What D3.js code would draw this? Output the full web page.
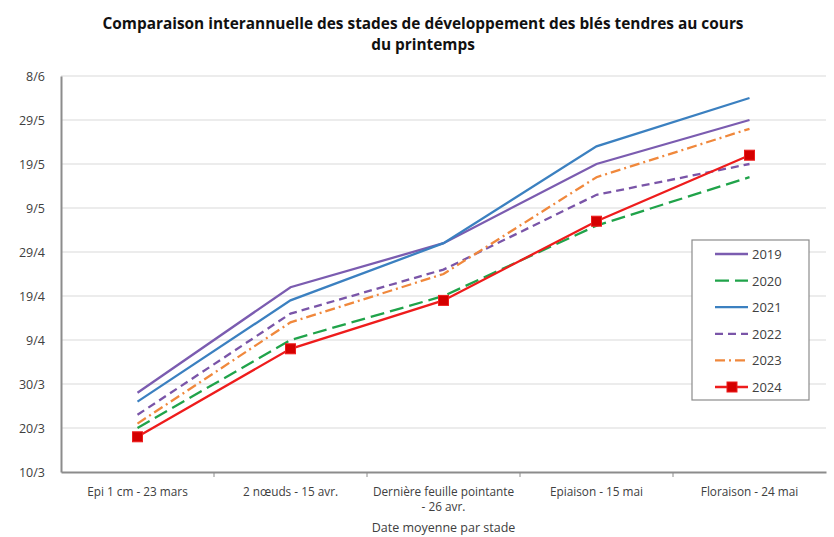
<!DOCTYPE html>
<meta charset="utf-8">
<script src="https://d3js.org/d3.v7.min.js"></script>
<style>
  body { margin: 0; background: #fff; }
  text { font-family: "Open Sans", "Liberation Sans", sans-serif; fill: #404040; }
</style>
<div id="chart"></div>
<script>
// stages (x categories), second line for the wrapped one
var stades = ["Epi 1 cm - 23 mars", "2 nœuds - 15 avr.", "Dernière feuille pointante|- 26 avr.", "Epiaison - 15 mai", "Floraison - 24 mai"];
var annees = ["2019", "2020", "2021", "2022", "2023", "2024"];

// dates (day/month)
var d2019 = ["28/3", "21/4", "1/5", "19/5", "29/5"];
var d2020 = ["20/3", "9/4", "19/4", "5/5", "16/5"];
var d2021 = ["26/3", "18/4", "1/5", "23/5", "3/6"];
var d2022 = ["23/3", "15/4", "25/4", "12/5", "19/5"];
var d2023 = ["21/3", "13/4", "24/4", "16/5", "27/5"];
var d2024 = ["18/3", "7/4", "18/4", "6/5", "21/5"];

var yTicks = ["10/3", "20/3", "30/3", "9/4", "19/4", "29/4", "9/5", "19/5", "29/5", "8/6"];

var width = 834, height = 537;
var margin = {top: 76, right: 8, bottom: 65, left: 61};
var w = width - margin.left - margin.right,
    h = height - margin.top - margin.bottom;

var parse = function(s) { return d3.timeParse("%d/%m/%Y")(s + "/2021"); };

var svg = d3.select("#chart").append("svg")
    .attr("width", width)
    .attr("height", height);

var g = svg.append("g")
    .attr("transform", "translate(" + margin.left + "," + margin.top + ")");

var x = d3.scaleBand().domain(stades).range([0, w]);
var y = d3.scaleTime().domain([parse("10/3"), parse("8/6")]).range([h, 0]);

// gridlines
g.append("g").selectAll("line").data(yTicks.slice(1)).enter().append("line")
    .attr("x1", 0).attr("x2", w)
    .attr("y1", function(d) { return y(parse(d)); })
    .attr("y2", function(d) { return y(parse(d)); })
    .attr("stroke", "#d9d9d9").attr("stroke-width", 1);

// y axis
var yAxis = g.append("g")
    .call(d3.axisLeft(y).tickValues(yTicks.map(parse)).tickSize(0).tickPadding(16)
      .tickFormat(function(d) { return d.getDate() + "/" + (d.getMonth() + 1); }));
yAxis.select(".domain").attr("stroke", "#8c8c8c").attr("stroke-width", 2);
yAxis.selectAll("text").style("font-size", "12.5px").attr("fill", "#404040");

// x axis
var xAxis = g.append("g")
    .attr("transform", "translate(0," + h + ")")
    .call(d3.axisBottom(x).tickSize(0).tickFormat(""));
xAxis.select(".domain").attr("stroke", "#8c8c8c").attr("stroke-width", 2);
g.append("g").selectAll("line").data(stades.slice(1)).enter().append("line")
    .attr("x1", function(d) { return x(d); }).attr("x2", function(d) { return x(d); })
    .attr("y1", h).attr("y2", h + 5)
    .attr("stroke", "#8c8c8c");

var lab = g.append("g").selectAll("text").data(stades).enter().append("text")
    .attr("x", function(d) { return x(d) + x.bandwidth() / 2; })
    .attr("y", h + 24)
    .attr("text-anchor", "middle")
    .style("font-size", "11.8px");
lab.each(function(d) {
  var parts = d.split("|");
  var t = d3.select(this);
  parts.forEach(function(p, i) {
    t.append("tspan").attr("x", x(d) + x.bandwidth() / 2).attr("dy", i ? 15 : 0).text(p);
  });
});

svg.append("text")
    .attr("x", margin.left + w / 2).attr("y", 532)
    .attr("text-anchor", "middle")
    .style("font-size", "12.5px")
    .text("Date moyenne par stade");

// title
var title = svg.append("text")
    .attr("x", 423).attr("y", 29)
    .attr("text-anchor", "middle")
    .style("font-size", "15.4px").style("font-weight", "bold");
title.append("tspan").attr("x", 423).text("Comparaison interannuelle des stades de développement des blés tendres au cours");
title.append("tspan").attr("x", 423).attr("dy", 21).text("du printemps");
title.selectAll("tspan").style("fill", "#111");

// series
var series = [
  {name: "2019", values: d2019, color: "#7b5cb0", dash: null},
  {name: "2020", values: d2020, color: "#20a34a", dash: "14,6"},
  {name: "2021", values: d2021, color: "#3b80c0", dash: null},
  {name: "2022", values: d2022, color: "#7a55a8", dash: "8,5"},
  {name: "2023", values: d2023, color: "#f0883c", dash: "10,4,2,4"},
  {name: "2024", values: d2024, color: "#ee1c1c", dash: null}
];

var line = d3.line()
    .x(function(d, i) { return x(stades[i]) + x.bandwidth() / 2; })
    .y(function(d) { return y(parse(d)); });

g.append("g").selectAll("path").data(series).enter().append("path")
    .attr("d", function(s) { return line(s.values); })
    .attr("fill", "none")
    .attr("stroke", function(s) { return s.color; })
    .attr("stroke-width", 2.3)
    .attr("stroke-dasharray", function(s) { return s.dash; });

g.append("g").selectAll("rect").data(d2024).enter().append("rect")
    .attr("x", function(d, i) { return x(stades[i]) + x.bandwidth() / 2 - 5; })
    .attr("y", function(d) { return y(parse(d)) - 5; })
    .attr("width", 10).attr("height", 10)
    .attr("fill", "#d40000").attr("stroke", "#ee1c1c");

// legend
var leg = svg.append("g").attr("transform", "translate(692,240)");
leg.append("rect").attr("width", 117).attr("height", 160)
    .attr("fill", "#fff").attr("stroke", "#8c8c8c").attr("stroke-width", 1.2);
var items = leg.selectAll("g.item").data(series).enter().append("g")
    .attr("transform", function(d, i) { return "translate(0," + (14 + i * 26.6) + ")"; });
items.append("line")
    .attr("x1", 23).attr("x2", 56).attr("y1", 0).attr("y2", 0)
    .attr("stroke", function(s) { return s.color; })
    .attr("stroke-width", 2.3)
    .attr("stroke-dasharray", function(s) { return s.dash; });
items.filter(function(s) { return s.name === "2024"; }).append("rect")
    .attr("x", 35).attr("y", -5).attr("width", 10).attr("height", 10)
    .attr("fill", "#d40000").attr("stroke", "#ee1c1c");
items.append("text")
    .attr("x", 60).attr("y", 5)
    .style("font-size", "13px")
    .text(function(s) { return s.name; });
</script>
